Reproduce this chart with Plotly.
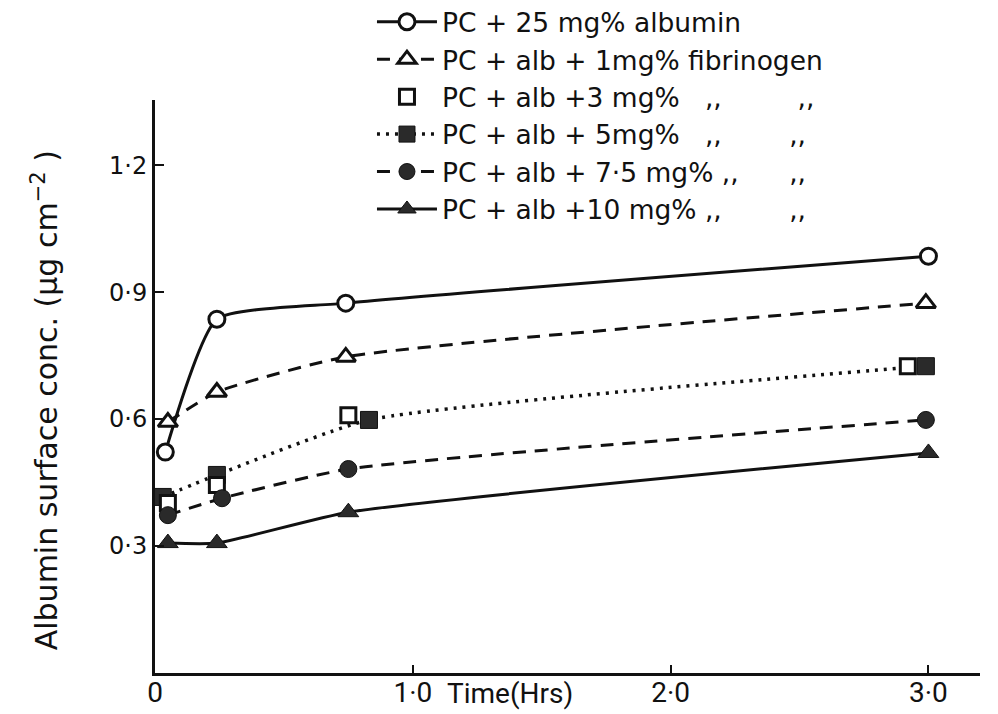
import plotly.graph_objects as go

# ---- data ----
alb25_x = [0.04, 0.24, 0.74, 3.00]
alb25_y = [0.522, 0.836, 0.874, 0.985]

fib1_x = [0.05, 0.24, 0.74, 2.99]
fib1_y = [0.593, 0.664, 0.747, 0.874]

fib3_x = [0.05, 0.24, 0.75, 2.92]
fib3_y = [0.402, 0.444, 0.609, 0.725]

fib5_x = [0.03, 0.24, 0.83, 2.99]
fib5_y = [0.416, 0.468, 0.598, 0.725]

fib75_x = [0.05, 0.26, 0.75, 2.99]
fib75_y = [0.373, 0.413, 0.482, 0.598]

fib10_x = [0.05, 0.24, 0.75, 3.00]
fib10_y = [0.307, 0.307, 0.380, 0.520]

NB = "\u00a0"
names = [
    "PC + 25 mg% albumin",
    "PC + alb + 1mg% fibrinogen",
    "PC + alb +3 mg%" + NB * 3 + ",," + NB * 9 + ",,",
    "PC + alb + 5mg%" + NB * 3 + ",," + NB * 8 + ",,",
    "PC + alb + 7·5 mg%" + NB * 1 + ",," + NB * 6 + ",,",
    "PC + alb +10 mg%" + NB * 1 + ",," + NB * 8 + ",,",
]

x_tickvals = [0, 1, 2, 3]
x_ticktext = ["0", "1·0", "2·0", "3·0"]
y_tickvals = [0.3, 0.6, 0.9, 1.2]
y_ticktext = ["0·3", "0·6", "0·9", "1·2"]

INK = "#111111"
DARK = "#2a2a2a"
FONT = "DejaVu Sans"
XFONT = "Roboto"
SM = 0.5

fig = go.Figure()

fig.add_trace(go.Scatter(
    x=alb25_x, y=alb25_y, name=names[0], legendrank=1,
    mode="lines+markers", line=dict(color=INK, width=3, shape="spline", smoothing=SM),
    marker=dict(symbol="circle", size=16, color="white", line=dict(color=INK, width=3)),
))
fig.add_trace(go.Scatter(
    x=fib1_x, y=fib1_y, name=names[1], legendrank=2,
    mode="lines+markers", line=dict(color=INK, width=3, dash="13px,9px", shape="spline", smoothing=SM),
    marker=dict(symbol="triangle-up", size=17, color="white", line=dict(color=INK, width=3)),
))
fig.add_trace(go.Scatter(
    x=fib5_x, y=fib5_y, name=names[3], legendrank=4,
    mode="lines+markers", line=dict(color=INK, width=3.5, dash="3px,6px", shape="spline", smoothing=SM),
    marker=dict(symbol="square", size=17, color=DARK, line=dict(color=INK, width=1)),
))
fig.add_trace(go.Scatter(
    x=fib3_x, y=fib3_y, name=names[2], legendrank=3,
    mode="markers",
    marker=dict(symbol="square", size=15, color="white", line=dict(color=INK, width=3)),
))
fig.add_trace(go.Scatter(
    x=fib75_x, y=fib75_y, name=names[4], legendrank=5,
    mode="lines+markers", line=dict(color=INK, width=3, dash="13px,9px", shape="spline", smoothing=SM),
    marker=dict(symbol="circle", size=17, color=DARK, line=dict(color=INK, width=1)),
))
fig.add_trace(go.Scatter(
    x=fib10_x, y=fib10_y, name=names[5], legendrank=6,
    mode="lines+markers", line=dict(color=INK, width=3, shape="spline", smoothing=SM),
    marker=dict(symbol="triangle-up", size=18, color=DARK, line=dict(color=INK, width=1)),
))

fig.update_layout(
    width=998, height=714,
    margin=dict(l=155, r=18, t=100, b=41, autoexpand=False),
    paper_bgcolor="white", plot_bgcolor="white",
    font=dict(family=FONT, color=INK, size=24),
    showlegend=True,
    legend=dict(
        x=0.263, y=1.178, xanchor="left", yanchor="top",
        font=dict(family=FONT, size=26.5, color=INK),
        bgcolor="rgba(0,0,0,0)", itemwidth=60, tracegroupgap=0,
    ),
    xaxis=dict(
        range=[0, 3.2], tickmode="array", tickvals=x_tickvals, ticktext=x_ticktext,
        showgrid=False, zeroline=False, showline=True, linecolor=INK, linewidth=3,
        ticks="inside", ticklen=8, tickwidth=2, tickcolor=INK, automargin=False,
        ticklabelstandoff=-8,
        tickfont=dict(family=XFONT, size=28, color=INK),
    ),
    yaxis=dict(
        range=[0, 1.354], tickmode="array", tickvals=y_tickvals, ticktext=y_ticktext,
        showgrid=False, zeroline=False, showline=True, linecolor=INK, linewidth=3,
        ticks="inside", ticklen=9, tickwidth=2, tickcolor=INK, automargin=False,
        tickfont=dict(family=FONT, size=24, color=INK),
    ),
)

fig.add_annotation(
    text="Albumin surface conc. (\u03bcg cm<sup>\u22122</sup> )",
    xref="paper", yref="paper", x=-0.1333, y=0.476, textangle=-90,
    xanchor="center", yanchor="middle", showarrow=False,
    font=dict(family=FONT, size=30, color=INK),
)

fig.add_annotation(
    text="Time(Hrs)", xref="x", yref="paper", x=1.0, y=0,
    xanchor="left", yanchor="top", xshift=32, yshift=-2, showarrow=False,
    font=dict(family=XFONT, size=28, color=INK),
)

fig.write_html("out.html")
